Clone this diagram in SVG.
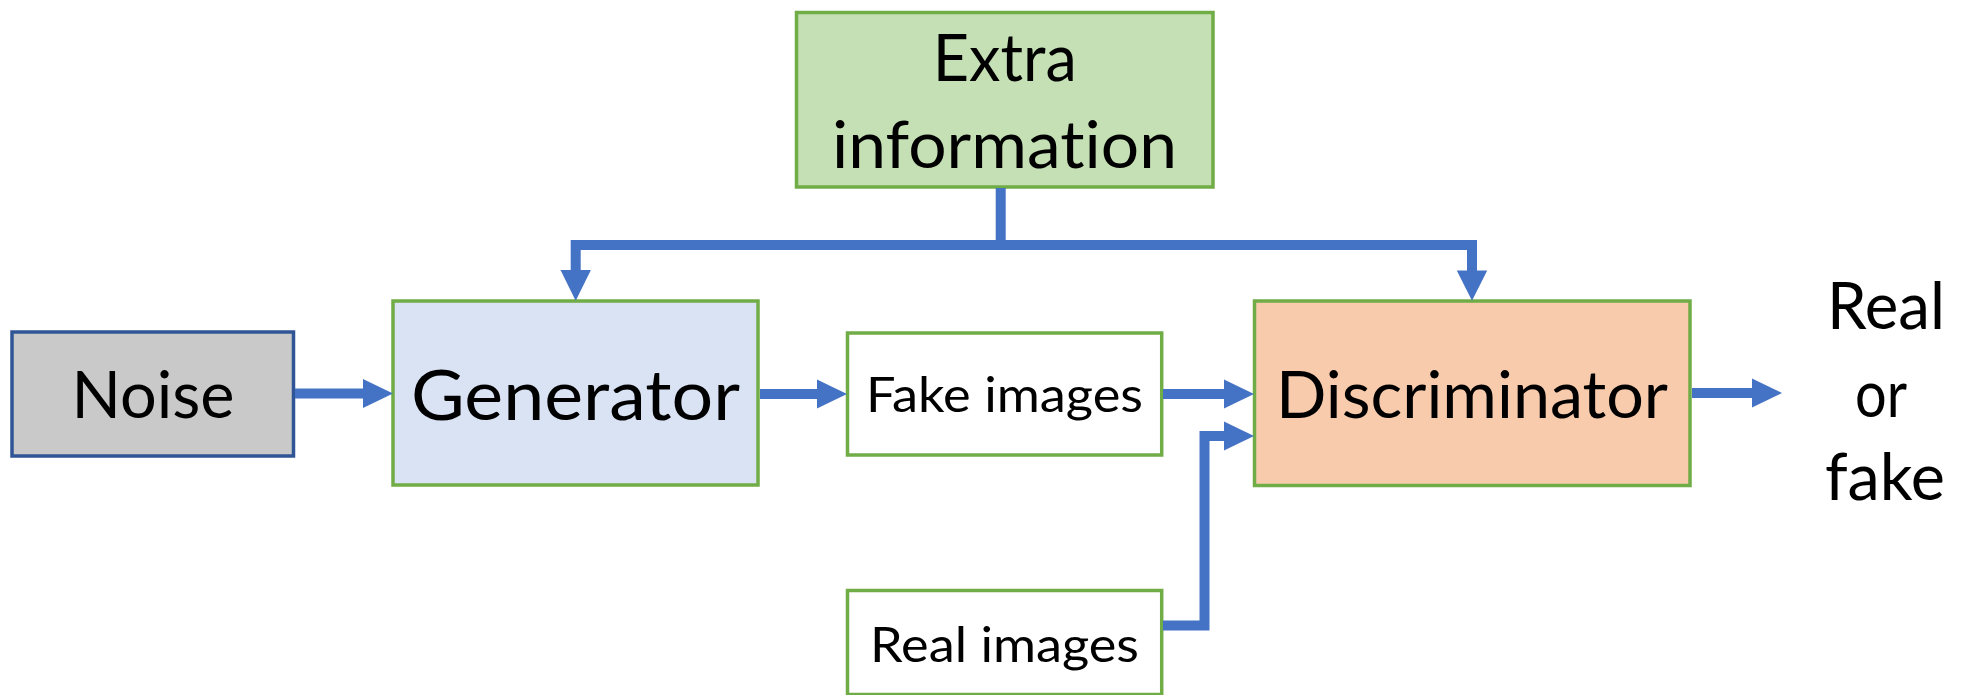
<svg xmlns="http://www.w3.org/2000/svg" width="1966" height="695" viewBox="0 0 1966 695">
  <style>
    .box { stroke-width: 3.5; }
    .green { stroke: #70AD47; }
    .lbl { font-family: Lato, "Open Sans", sans-serif; fill: #000; text-anchor: middle; font-variant-ligatures: none; font-feature-settings: "liga" 0, "clig" 0; }
    .big { font-size: 65px; }
    .gen { font-size: 70px; }
    .small { font-size: 49px; }
    .conn { fill: none; stroke: #4472C4; stroke-width: 10; stroke-linejoin: miter; stroke-linecap: butt; }
    .head { fill: #4472C4; }
  </style>
  <rect width="1966" height="695" fill="#FFFFFF"/>

  <g id="extra">
    <rect class="box green" x="796.5" y="12.5" width="416.5" height="174.5" fill="#C5E0B4"/>
    <text class="lbl big" x="1004.7" y="81" textLength="144" lengthAdjust="spacingAndGlyphs">Extra</text>
    <text class="lbl big" x="1004.5" y="168" textLength="345" lengthAdjust="spacingAndGlyphs">information</text>
  </g>

  <g id="noise">
    <rect class="box" x="12" y="332" width="281.5" height="124" fill="#C9C9C9" stroke="#2F5597"/>
    <text class="lbl big" x="153" y="418" textLength="163" lengthAdjust="spacingAndGlyphs">Noise</text>
  </g>

  <g id="generator">
    <rect class="box green" x="393" y="301" width="365" height="184" fill="#DAE3F3"/>
    <text class="lbl gen" x="575.5" y="420" textLength="329" lengthAdjust="spacingAndGlyphs">Generator</text>
  </g>

  <g id="fake-images">
    <rect class="box green" x="847.5" y="333" width="314.2" height="122" fill="#FFFFFF"/>
    <text class="lbl small" x="1004.5" y="412" textLength="277" lengthAdjust="spacingAndGlyphs">Fake images</text>
  </g>

  <g id="real-images">
    <rect class="box green" x="847.5" y="590.5" width="314.2" height="104" fill="#FFFFFF"/>
    <text class="lbl small" x="1004.5" y="662" textLength="269" lengthAdjust="spacingAndGlyphs">Real images</text>
  </g>

  <g id="discriminator">
    <rect class="box green" x="1254.5" y="301" width="435.5" height="184.5" fill="#F8CBAD"/>
    <text class="lbl big" x="1472" y="418" textLength="392" lengthAdjust="spacingAndGlyphs">Discriminator</text>
  </g>

  <g id="output">
    <text class="lbl big" x="1886" y="329" textLength="118" lengthAdjust="spacingAndGlyphs">Real</text>
    <text class="lbl big" x="1881" y="417" textLength="52" lengthAdjust="spacingAndGlyphs">or</text>
    <text class="lbl big" x="1885" y="500" textLength="120" lengthAdjust="spacingAndGlyphs">fake</text>
  </g>

  <g id="connectors">
    <!-- Noise -> Generator -->
    <path class="conn" d="M295 393.5 H364"/>
    <polygon class="head" points="363,379 393,393.5 363,408"/>
    <!-- Generator -> Fake images -->
    <path class="conn" d="M760 394 H818"/>
    <polygon class="head" points="817,379.5 847,394 817,408.5"/>
    <!-- Fake images -> Discriminator -->
    <path class="conn" d="M1163 394 H1225"/>
    <polygon class="head" points="1224,379.5 1254,394 1224,408.5"/>
    <!-- Real images -> Discriminator -->
    <path class="conn" d="M1163 625.5 H1204.5 V436 H1225"/>
    <polygon class="head" points="1224,421.5 1254,436 1224,450.5"/>
    <!-- Discriminator -> Real or fake -->
    <path class="conn" d="M1692 393 H1753"/>
    <polygon class="head" points="1752,378.5 1782,393 1752,407.5"/>
    <!-- Extra information -> bus -->
    <path class="conn" d="M1000.7 188 V245"/>
    <path class="conn" d="M575.7 271 V245 H1472 V271"/>
    <polygon class="head" points="560.5,270 590.9,270 575.7,300.7"/>
    <polygon class="head" points="1456.8,270.5 1487.2,270.5 1472,300.7"/>
  </g>
</svg>
